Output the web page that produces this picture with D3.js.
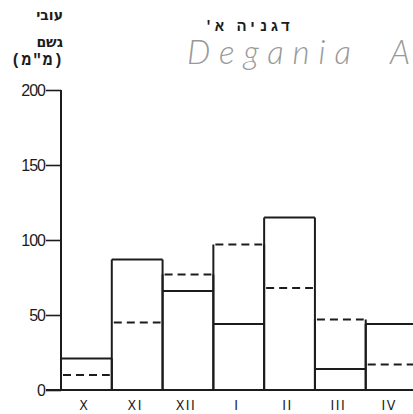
<!DOCTYPE html>
<html>
<head>
<meta charset="utf-8">
<script src="https://cdn.jsdelivr.net/npm/d3@7"></script>
<style>
  body { margin: 0; background: #fff; }
  svg { display: block; }
</style>
</head>
<body>
<div id="chartArea"></div>
<script>
// 월 (10월 ~ 4월)
var months = ["X", "XI", "XII", "I", "II", "III", "IV"];
// 실선 막대 값 (mm)
var solidValues = [21, 87, 66, 44, 115, 14, 44];
// 점선 값 (mm)
var dashedValues = [10, 45, 77, 97, 68, 47, 17];
var yTicks = [0, 50, 100, 150, 200];

var svg = d3.select("#chartArea").append("svg")
    .attr("width", 413).attr("height", 414);

var x = d3.scaleBand().domain(months).range([61, 416.5]).padding(0),
    y = d3.scaleLinear().domain([0, 200]).range([390, 90]);

var ink = "#1c1c1c";

// y 축
var yAxis = svg.append("g")
    .attr("transform", "translate(61,0)")
    .call(d3.axisLeft(y).tickValues(yTicks).tickSize(15).tickPadding(1));
yAxis.select(".domain").remove();
yAxis.selectAll(".tick line").attr("stroke", ink).attr("stroke-width", 1.6);
yAxis.selectAll(".tick text")
    .style("font", "16px 'Liberation Sans', sans-serif")
    .attr("letter-spacing", "-1")
    .attr("fill", ink);

svg.append("line")
    .attr("x1", 61).attr("x2", 61)
    .attr("y1", y(200)).attr("y2", y(0))
    .attr("stroke", ink).attr("stroke-width", 2);

// 막대
var cols = svg.selectAll(".col")
    .data(months.map(function (m, i) {
        return { m: m, s: solidValues[i], d: dashedValues[i] };
    }))
    .enter().append("g").attr("class", "col");

cols.append("line")
    .attr("x1", function (d) { return x(d.m); })
    .attr("x2", function (d) { return x(d.m); })
    .attr("y1", y(0))
    .attr("y2", function (d) { return y(Math.max(d.s, d.d)); })
    .attr("stroke", ink).attr("stroke-width", 2);
cols.append("line")
    .attr("x1", function (d) { return x(d.m) + x.bandwidth(); })
    .attr("x2", function (d) { return x(d.m) + x.bandwidth(); })
    .attr("y1", y(0))
    .attr("y2", function (d) { return y(Math.max(d.s, d.d)); })
    .attr("stroke", ink).attr("stroke-width", 2);
cols.append("line")
    .attr("x1", function (d) { return x(d.m); })
    .attr("x2", function (d) { return x(d.m) + x.bandwidth(); })
    .attr("y1", function (d) { return y(d.s); })
    .attr("y2", function (d) { return y(d.s); })
    .attr("stroke", ink).attr("stroke-width", 2);
cols.append("line")
    .attr("x1", function (d) { return x(d.m) + 2; })
    .attr("x2", function (d) { return x(d.m) + x.bandwidth() - 2; })
    .attr("y1", function (d) { return y(d.d); })
    .attr("y2", function (d) { return y(d.d); })
    .attr("stroke", ink).attr("stroke-width", 2)
    .attr("stroke-dasharray", "8,5");

// x 축 기준선
svg.append("line")
    .attr("x1", 46).attr("x2", 413)
    .attr("y1", y(0)).attr("y2", y(0))
    .attr("stroke", ink).attr("stroke-width", 2);

svg.selectAll(".mlabel")
    .data(months).enter().append("text")
    .attr("class", "mlabel")
    .attr("x", function (d) { return x(d) + x.bandwidth() / 2 - 2; })
    .attr("y", 410)
    .attr("text-anchor", "middle")
    .style("font", "14px 'DejaVu Sans Condensed', sans-serif")
    .attr("letter-spacing", "1.5")
    .attr("fill", ink)
    .text(function (d) { return d; });

// 제목 / 축 제목
var heb = "bold 14px 'DejaVu Sans', sans-serif";
svg.append("text").attr("x", 63).attr("y", 20).attr("text-anchor", "end")
    .style("font", heb).attr("fill", ink).text("עובי");
svg.append("text").attr("x", 63).attr("y", 47).attr("text-anchor", "end")
    .style("font", heb).attr("fill", ink).text("גשם");
svg.append("text").attr("x", 64).attr("y", 65).attr("text-anchor", "end")
    .style("font", "bold 16px 'Liberation Mono', monospace")
    .attr("letter-spacing", "1")
    .attr("fill", ink).text("(מ\"מ)");
svg.append("text").attr("x", 292).attr("y", 31).attr("text-anchor", "end")
    .style("font", "bold 15px 'Liberation Mono', monospace")
    .attr("letter-spacing", "2")
    .attr("fill", ink).text("דגניה א'\u200F");

// 손글씨 부제
svg.append("text").attr("x", 187).attr("y", 64)
    .style("font", "italic 300 33px Lato, sans-serif")
    .attr("fill", "#999")
    .attr("textLength", 164).attr("lengthAdjust", "spacing")
    .text("Degania");
svg.append("text").attr("x", 390).attr("y", 64)
    .style("font", "italic 300 33px Lato, sans-serif")
    .attr("fill", "#999")
    .text("A");
</script>
</body>
</html>
